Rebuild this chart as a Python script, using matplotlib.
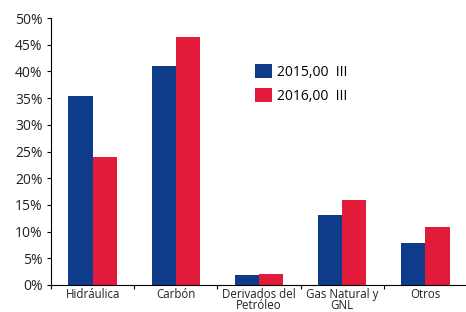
import numpy as np
import matplotlib.pyplot as plt

categories = ["Hidráulica", "Carbón", "Derivados del\nPetróleo", "Gas Natural y\nGNL", "Otros"]
vals_2015 = [35.4, 41.1, 1.8, 13.1, 7.8]
vals_2016 = [24.0, 46.4, 2.0, 15.9, 10.8]
series_labels = ["2015,00  III", "2016,00  III"]

BLUE = "#0F3C8A"
RED = "#E31B3A"

plt.rcParams["font.family"] = ["Open Sans", "DejaVu Sans"]

fig = plt.figure(figsize=(4.66, 3.12), dpi=100)
ax = fig.add_axes([51 / 466, 27 / 312, 416 / 466, 267 / 312])

x = np.arange(len(categories))
w = 0.29
ax.bar(x - w / 2, vals_2015, w, color=BLUE, label=series_labels[0])
ax.bar(x + w / 2, vals_2016, w, color=RED, label=series_labels[1])

ax.set_xlim(-0.5, len(categories) - 0.5)
ax.set_ylim(0, 50)
ax.set_yticks(np.arange(0, 51, 5))
ax.set_yticklabels([f"{v}%" for v in range(0, 51, 5)], fontsize=10, color="#222222")
ax.tick_params(axis="y", length=3, width=0.8, pad=3)

ax.set_xticks(x)
ax.set_xticklabels(categories, fontsize=8.3, color="#222222", linespacing=0.85)
ax.tick_params(axis="x", length=0, pad=2)
ax.set_xticks(np.arange(-0.5, len(categories), 1), minor=True)
ax.tick_params(axis="x", which="minor", length=3, width=0.8)

for s in ["top", "right"]:
    ax.spines[s].set_visible(False)
ax.spines["left"].set_linewidth(0.8)
ax.spines["bottom"].set_linewidth(0.8)

ax.legend(loc="upper left", bbox_to_anchor=(0.46, 0.875), frameon=False,
          fontsize=10, handlelength=1.2, handleheight=1.2, labelspacing=0.6,
          handletextpad=0.4)

fig.savefig("out.png", dpi=100)
